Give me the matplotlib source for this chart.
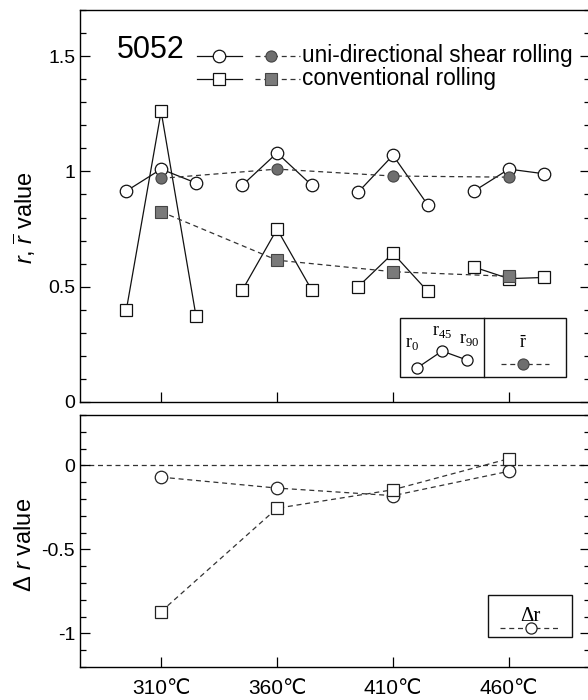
import matplotlib
matplotlib.use("Agg")
import matplotlib.pyplot as plt
from matplotlib.patches import Rectangle
from matplotlib.ticker import MultipleLocator
import numpy as np

plt.rcParams['font.family'] = ['Liberation Sans', 'DejaVu Sans']
plt.rcParams['mathtext.fontset'] = 'custom'
plt.rcParams['mathtext.rm'] = 'Liberation Sans'
plt.rcParams['mathtext.it'] = 'Liberation Sans:italic'

# ---- data ----
temps = [310, 360, 410, 460]
temp_labels = ['310\u2103', '360\u2103', '410\u2103', '460\u2103']
angle_offset = [-15, 0, 15]  # r0, r45, r90 drawn around each temperature

usr_r = [[0.915, 1.01, 0.95],
         [0.94, 1.08, 0.94],
         [0.91, 1.07, 0.855],
         [0.915, 1.01, 0.99]]
usr_rbar = [0.97, 1.01, 0.98, 0.975]

cr_r = [[0.40, 1.26, 0.375],
        [0.485, 0.75, 0.485],
        [0.50, 0.645, 0.48],
        [0.585, 0.535, 0.54]]
cr_rbar = [0.825, 0.615, 0.565, 0.545]

usr_dr = [-0.07, -0.135, -0.18, -0.035]
cr_dr = [-0.87, -0.255, -0.145, 0.04]

W, H = 588, 700
fig = plt.figure(figsize=(W / 100, H / 100), dpi=100)

def axrect(l, t, r, b):
    return [l / W, 1 - b / H, (r - l) / W, (b - t) / H]

ax1 = fig.add_axes(axrect(80, 10, 590, 402))
ax2 = fig.add_axes(axrect(80, 415, 590, 667))

ms = 9
dash = (0, (4, 3))
dcol = '#333333'

for i, t in enumerate(temps):
    xs = [t + o for o in angle_offset]
    ax1.plot(xs, usr_r[i], '-', color='#111111', lw=0.9, marker='o', ms=ms,
             mfc='white', mec='#111111', mew=0.9, zorder=3)
    ax1.plot(xs, cr_r[i], '-', color='#111111', lw=0.9, marker='s', ms=ms,
             mfc='white', mec='#111111', mew=0.9, zorder=3)

ax1.plot(temps, usr_rbar, linestyle=dash, color=dcol, lw=0.9, marker='o', ms=ms - 1,
         mfc='#6e6e6e', mec='#444444', mew=0.8, zorder=4)
ax1.plot(temps, cr_rbar, linestyle=dash, color=dcol, lw=0.9, marker='s', ms=ms - 1,
         mfc='#7a7a7a', mec='#444444', mew=0.8, zorder=4)

ax2.axhline(0, linestyle=dash, color=dcol, lw=0.9, zorder=1)
ax2.plot(temps, usr_dr, linestyle=dash, color=dcol, lw=0.9, marker='o', ms=ms,
         mfc='white', mec='#222222', mew=0.9, zorder=3)
ax2.plot(temps, cr_dr, linestyle=dash, color=dcol, lw=0.9, marker='s', ms=ms,
         mfc='white', mec='#222222', mew=0.9, zorder=3)

for ax in (ax1, ax2):
    ax.set_xlim(275, 495)
    ax.set_xticks(temps)
    ax.tick_params(axis='x', direction='in', length=7, width=0.9, top=False)
    ax.tick_params(axis='y', which='both', direction='in', left=True, right=True,
                   labelsize=14, width=0.9)
    ax.tick_params(axis='y', which='major', length=7)
    ax.tick_params(axis='y', which='minor', length=4)
    ax.yaxis.set_minor_locator(MultipleLocator(0.1))
    for s in ax.spines.values():
        s.set_linewidth(1.0)

ax1.set_ylim(0, 1.7)
ax1.set_yticks([0, 0.5, 1, 1.5])
ax1.set_yticklabels(['0', '0.5', '1', '1.5'])
ax1.set_xticklabels([])

ax2.set_ylim(-1.2, 0.3)
ax2.set_yticks([-1, -0.5, 0])
ax2.set_yticklabels(['-1', '-0.5', '0'])
ax2.set_xticklabels(temp_labels, fontsize=15)
ax2.tick_params(axis='x', pad=9)

fig.text(25 / W, 1 - 218 / H, r'$r$, $\overline{r}$ value', rotation=90,
         ha='center', va='center', fontsize=17)
fig.text(25 / W, 1 - 545 / H, r'$\Delta$ $r$ value', rotation=90,
         ha='center', va='center', fontsize=17)

# ---- top legend ----
T = ax1.transAxes
ax1.text(0.0725, 0.898, '5052', transform=T, fontsize=22, ha='left', va='center')
for y, mk, lab, fc in [(0.883, 'o', 'uni-directional shear rolling', '#6e6e6e'),
                       (0.824, 's', 'conventional rolling', '#7a7a7a')]:
    ax1.plot([0.229, 0.318], [y, y], '-', color='#111111', lw=0.9, transform=T)
    ax1.plot([0.273], [y], mk, ms=ms, mfc='white', mec='#111111', mew=0.9, transform=T)
    ax1.plot([0.343, 0.431], [y, y], linestyle=dash, color=dcol, lw=0.9, transform=T)
    ax1.plot([0.375], [y], mk, ms=ms - 1, mfc=fc, mec='#444444', mew=0.8, transform=T)
    ax1.text(0.435, y, lab, transform=T, fontsize=16.3, ha='left', va='center')

# boxed key for r0/r45/r90 and r-bar
ax1.add_patch(Rectangle((0.627, 0.064), 0.953 - 0.627, 0.214 - 0.064, transform=T,
                        fill=False, lw=1.0, ec='#111111', zorder=5))
ax1.plot([0.792, 0.792], [0.064, 0.214], '-', color='#111111', lw=1.0, transform=T, zorder=5)
ax1.plot([0.661, 0.710, 0.759], [0.087, 0.130, 0.107], '-', color='#111111', lw=0.9,
         marker='o', ms=ms - 1, mfc='white', mec='#111111', mew=0.9, transform=T, zorder=5)
sf = ['Liberation Serif', 'DejaVu Serif']
ax1.text(0.651, 0.128, r'r$_{\mathregular{0}}$', transform=T, fontsize=13, family=sf,
         ha='center', va='bottom')
ax1.text(0.710, 0.158, r'r$_{\mathregular{45}}$', transform=T, fontsize=13, family=sf,
         ha='center', va='bottom')
ax1.text(0.763, 0.138, r'r$_{\mathregular{90}}$', transform=T, fontsize=13, family=sf,
         ha='center', va='bottom')
ax1.text(0.869, 0.150, r'$\bar{\mathregular{r}}$', transform=T, fontsize=13, family=sf,
         ha='center', va='center')
ax1.plot([0.825, 0.920], [0.097, 0.097], linestyle=dash, color=dcol, lw=0.9, transform=T, zorder=5)
ax1.plot([0.869], [0.097], 'o', ms=ms - 1, mfc='#6e6e6e', mec='#444444', mew=0.8,
         transform=T, zorder=6)

# ---- bottom legend ----
T2 = ax2.transAxes
ax2.add_patch(Rectangle((0.800, 0.119), 0.165, 0.286 - 0.119, transform=T2,
                        fill=False, lw=1.0, ec='#111111', zorder=5))
ax2.text(0.884, 0.200, '\u0394r', transform=T2, fontsize=15, family=sf,
         ha='center', va='center')
ax2.plot([0.824, 0.941], [0.155, 0.155], linestyle=dash, color=dcol, lw=0.9, transform=T2, zorder=5)
ax2.plot([0.884], [0.155], 'o', ms=ms - 1, mfc='white', mec='#222222', mew=0.9,
         transform=T2, zorder=6)

fig.savefig('out.png', dpi=100)
